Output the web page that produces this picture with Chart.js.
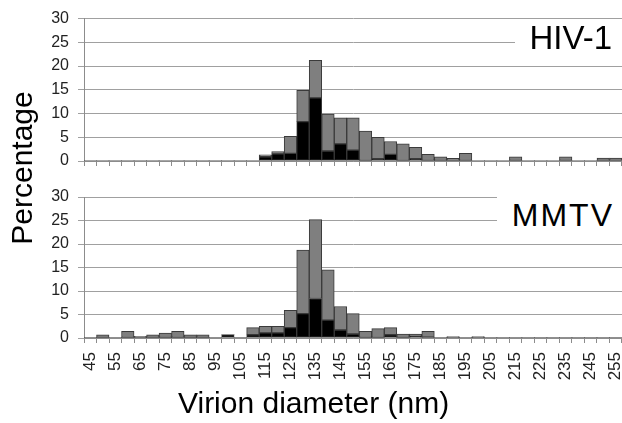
<!DOCTYPE html>
<html><head><meta charset="utf-8">
<script src="https://cdn.jsdelivr.net/npm/chart.js@4"></script>
<style>
html,body{margin:0;padding:0;background:#fff;}
#wrap{position:relative;width:622px;height:423px;overflow:hidden;font-family:"Liberation Sans",Arial,sans-serif;}
canvas{position:absolute;left:0;}
.box{position:absolute;background:#fff;color:#000;text-align:right;box-sizing:border-box;white-space:nowrap;}
.t{position:absolute;color:#000;white-space:nowrap;}
</style></head><body>
<div id="wrap">
<canvas id="c1" width="622" height="200" style="top:0"></canvas>
<canvas id="c2" width="622" height="253" style="top:170px"></canvas>
<div class="box" style="left:515px;top:20px;width:107px;height:42px;padding-right:10px;padding-top:0px;font-size:33px;line-height:36px;">HIV-1</div>
<div class="box" style="left:497px;top:197px;width:125px;height:42px;padding-right:8px;padding-top:0px;font-size:32px;line-height:36px;letter-spacing:2px;">MMTV</div>
<div class="t" style="left:-78px;top:150px;width:200px;height:36px;line-height:36px;font-size:30px;text-align:center;transform:rotate(-90deg);">Percentage</div>
<div class="t" style="left:178px;top:385px;height:36px;line-height:36px;font-size:30px;">Virion diameter (nm)</div>
</div>
<script>
const bins = [45,50,55,60,65,70,75,80,85,90,95,100,105,110,115,120,125,130,135,140,145,150,155,160,165,170,175,180,185,190,195,200,205,210,215,220,225,230,235,240,245,250,255];
const yTicks = [0,5,10,15,20,25,30];

const hivBlack = [0,0,0,0,0,0,0,0,0,0, 0,0,0,0,0.9,1.5,1.6,8.3,13.3,2.1, 3.6,2.3,0,0.5,1.4,0,0.5,0,0,0, 0,0,0,0,0,0,0,0,0,0, 0,0,0];
const hivGray  = [0,0,0,0,0,0,0,0,0,0, 0,0,0,0,0.4,0.5,3.6,6.6,7.9,7.8, 5.5,6.8,6.3,4.5,2.7,3.6,2.4,1.4,0.9,0.55, 1.6,0,0,0,0.9,0,0,0,0.9,0, 0,0.6,0.6];

const mmtvBlack = [0,0,0,0,0,0,0,0,0,0, 0,0.7,0,0.7,1.1,1.1,2.2,5.2,8.4,3.8, 1.7,0.85,0,0,0.7,0,0.35,0.2,0,0, 0,0,0,0,0,0,0,0,0,0, 0,0,0];
const mmtvGray  = [0,0.7,0,1.4,0.35,0.7,1.05,1.4,0.7,0.7, 0,0,0,1.5,1.4,1.4,3.7,13.5,16.8,10.7, 5.0,4.35,1.4,2.0,1.5,0.85,0.5,1.2,0,0.3, 0,0.3,0,0,0,0,0,0,0,0, 0,0,0];

const FONT = "'Liberation Sans', Arial, sans-serif";
const GRID = '#a0a0a0';
const AXIS = '#8c8c8c';

function makeChart(id, black, gray, showLabels, xHeight, padTop) {
  const bw = (c) => (c.raw > 0 ? 1 : 0);
  return new Chart(document.getElementById(id), {
    type: 'bar',
    data: {
      labels: bins.map(String),
      datasets: [
        { data: black, backgroundColor: '#000000', borderColor: '#3a3a3a', borderWidth: bw, borderSkipped: false, barPercentage: 1, categoryPercentage: 1 },
        { data: gray, backgroundColor: '#7f7f7f', borderColor: '#3a3a3a', borderWidth: bw, borderSkipped: false, barPercentage: 1, categoryPercentage: 1 }
      ]
    },
    options: {
      responsive: false,
      animation: false,
      layout: { padding: { top: padTop, left: 0, right: 0, bottom: 0 } },
      plugins: { legend: { display: false }, tooltip: { enabled: false } },
      scales: {
        x: {
          stacked: true,
          offset: true,
          grid: { display: true, offset: true, drawOnChartArea: false, drawTicks: true, tickLength: 5, color: AXIS },
          border: { display: true, color: AXIS },
          ticks: {
            display: showLabels,
            autoSkip: false,
            minRotation: 90, maxRotation: 90,
            padding: 9,
            color: '#222',
            font: { family: FONT, size: 17 },
            callback: function (v, i) { return i % 2 === 0 ? String(bins[i]) : ''; }
          },
          afterFit: function (s) { s.height = xHeight; s.paddingLeft = 0; s.paddingRight = 0; }
        },
        y: {
          stacked: true,
          min: 0, max: 30,
          afterBuildTicks: function (s) { s.ticks = yTicks.map(v => ({ value: v })); },
          grid: { color: GRID, tickLength: 6, drawTicks: true },
          border: { display: true, color: AXIS },
          ticks: { padding: 9, color: '#222', font: { family: FONT, size: 16 } },
          afterFit: function (s) { s.width = 84; }
        }
      }
    }
  });
}

makeChart('c1', hivBlack, hivGray, false, 39, 16);
makeChart('c2', mmtvBlack, mmtvGray, true, 85, 27);
</script>
</body></html>
